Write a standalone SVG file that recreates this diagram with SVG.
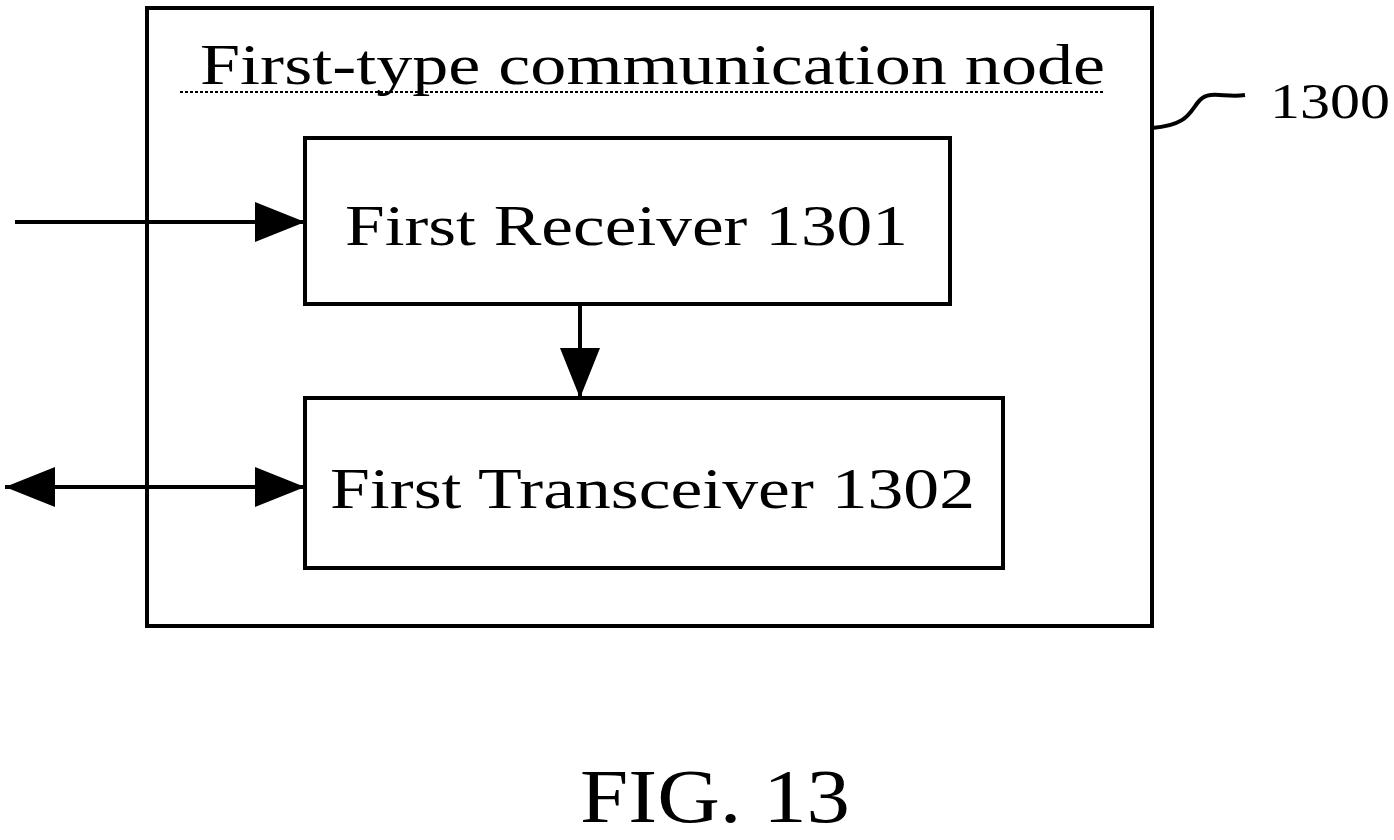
<svg xmlns="http://www.w3.org/2000/svg" width="1394" height="840" viewBox="0 0 1394 840">
<style>
.t{font-family:"Liberation Serif",serif;fill:#000}
.b{fill:none;stroke:#000;stroke-width:4}
.c{stroke:#000;stroke-width:4;fill:none}
</style>
<defs>
<marker id="A" viewBox="0 0 50 40" refX="50" refY="20" markerWidth="50" markerHeight="40" orient="auto-start-reverse" markerUnits="userSpaceOnUse"><path d="M0,0L50,20L0,40z"/></marker>
</defs>
<rect width="1394" height="840" fill="#fff"/>
<g id="node1300">
<rect class="b" x="147" y="8" width="1005" height="618"/>
<text class="t" x="200" y="84" font-size="56" textLength="905" lengthAdjust="spacingAndGlyphs">First-type communication node</text>
<line x1="180" y1="92" x2="1105" y2="92" stroke="#000" stroke-width="2" stroke-dasharray="3,2"/>
</g>
<g id="label1300">
<path class="c" d="M1152,128 C1190,125 1190,110 1200,100 C1210,90 1225,98 1245,95" stroke-width="3"/>
<text class="t" x="1270" y="118" font-size="50" textLength="120" lengthAdjust="spacingAndGlyphs">1300</text>
</g>
<g id="node1301">
<rect class="b" x="305" y="138" width="645" height="166"/>
<text class="t" x="345" y="245" font-size="58" textLength="563" lengthAdjust="spacingAndGlyphs">First Receiver 1301</text>
</g>
<g id="node1302">
<rect class="b" x="305" y="398" width="698" height="170"/>
<text class="t" x="330" y="508" font-size="58" textLength="645" lengthAdjust="spacingAndGlyphs">First Transceiver 1302</text>
</g>
<g id="connectors">
<line class="c" x1="15" y1="222" x2="305" y2="222" marker-end="url(#A)"/>
<line class="c" x1="580" y1="304" x2="580" y2="398" marker-end="url(#A)"/>
<line class="c" x1="5" y1="487" x2="305" y2="487" marker-start="url(#A)" marker-end="url(#A)"/>
</g>
<text class="t" x="580" y="822" font-size="76" textLength="270" lengthAdjust="spacingAndGlyphs">FIG. 13</text>
</svg>
